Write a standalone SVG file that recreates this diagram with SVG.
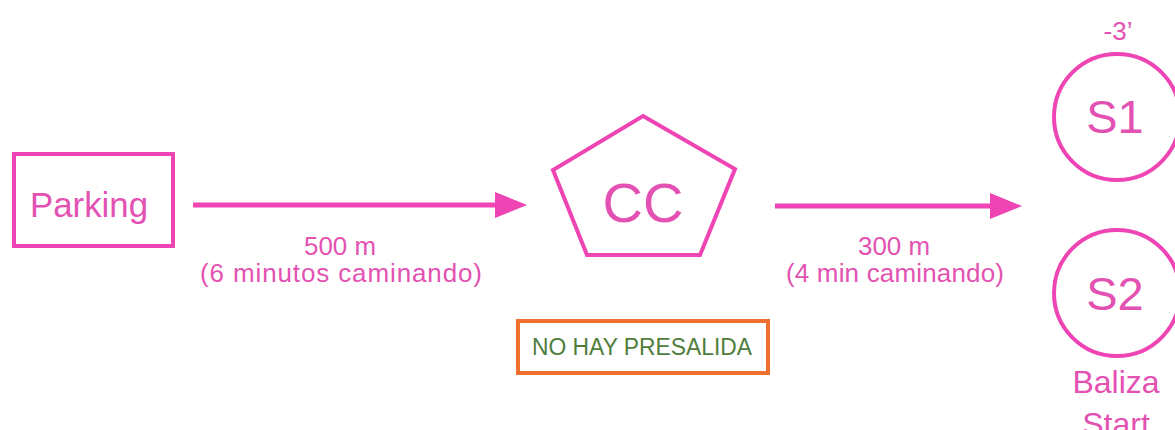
<svg xmlns="http://www.w3.org/2000/svg" width="1175" height="430" viewBox="0 0 1175 430">
  <style>
    .shape { fill: none; stroke: #ee44b4; stroke-width: 4; }
    .lbl { font-family: "Liberation Sans", Arial, sans-serif; fill: #e352b2; text-anchor: middle; }
    .conn { stroke: #ee44b4; stroke-width: 5; fill: none; }
  </style>
  <defs>
    <marker id="arrow" markerUnits="userSpaceOnUse" markerWidth="32" markerHeight="26" viewBox="0 0 32 26" refX="0" refY="13" orient="auto">
      <path d="M0,0 L32,13 L0,26 z" fill="#ee44b4"/>
    </marker>
  </defs>
  <rect width="1175" height="430" fill="#ffffff"/>

  <g id="connectors">
    <line class="conn" x1="193" y1="205" x2="495" y2="205" marker-end="url(#arrow)"/>
    <line class="conn" x1="775" y1="206" x2="990" y2="206" marker-end="url(#arrow)"/>
    <text class="lbl" x="340" y="255" font-size="25" textLength="72" lengthAdjust="spacingAndGlyphs">500 m</text>
    <text class="lbl" x="341" y="282" font-size="26" textLength="282" lengthAdjust="spacing">(6 minutos caminando)</text>
    <text class="lbl" x="894" y="255" font-size="25" textLength="72" lengthAdjust="spacingAndGlyphs">300 m</text>
    <text class="lbl" x="895" y="282" font-size="26" textLength="218" lengthAdjust="spacing">(4 min caminando)</text>
  </g>

  <g id="parking">
    <rect class="shape" x="14" y="154" width="159" height="92"/>
    <text class="lbl" x="89" y="217" font-size="35" textLength="118" lengthAdjust="spacingAndGlyphs">Parking</text>
  </g>

  <g id="cc">
    <polygon class="shape" points="643,116 735,169 700,255 587,255 553,170"/>
    <text class="lbl" x="643" y="222" font-size="56">CC</text>
  </g>

  <g id="nopresalida">
    <rect x="518" y="321" width="250" height="52" fill="none" stroke="#ef6f2f" stroke-width="4"/>
    <text x="642" y="355" font-family="Liberation Sans, Arial, sans-serif" font-size="23" fill="#4f7d3c" text-anchor="middle" textLength="220" lengthAdjust="spacingAndGlyphs">NO HAY PRESALIDA</text>
  </g>

  <g id="s1">
    <text class="lbl" x="1118" y="40" font-size="26">-3’</text>
    <circle class="shape" cx="1117" cy="117" r="63"/>
    <text class="lbl" x="1115" y="133" font-size="47">S1</text>
  </g>

  <g id="s2">
    <circle class="shape" cx="1117" cy="293" r="63"/>
    <text class="lbl" x="1115" y="310" font-size="47">S2</text>
    <text class="lbl" x="1116" y="393" font-size="32">Baliza</text>
    <text class="lbl" x="1116" y="435" font-size="32">Start</text>
  </g>
</svg>
